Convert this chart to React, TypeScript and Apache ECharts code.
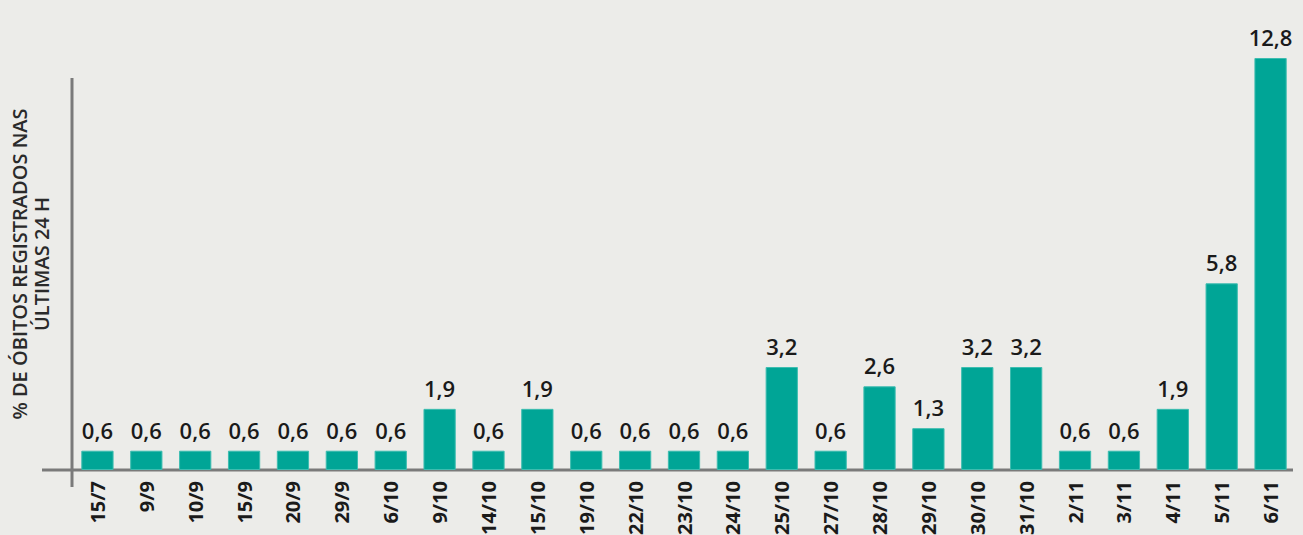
import React, { useEffect, useRef } from "react";
import * as echarts from "echarts";

const categories = ["15/7","9/9","10/9","15/9","20/9","29/9","6/10","9/10","14/10","15/10","19/10","22/10","23/10","24/10","25/10","27/10","28/10","29/10","30/10","31/10","2/11","3/11","4/11","5/11","6/11"];
const values = [0.6,0.6,0.6,0.6,0.6,0.6,0.6,1.9,0.6,1.9,0.6,0.6,0.6,0.6,3.2,0.6,2.6,1.3,3.2,3.2,0.6,0.6,1.9,5.8,12.8];
const yTitle = "% DE ÓBITOS REGISTRADOS NAS\nÚLTIMAS 24 H";

export default function App() {
  const ref = useRef<HTMLDivElement>(null);
  useEffect(() => {
    const chart = echarts.init(ref.current!, undefined, { renderer: "svg" });
    chart.setOption({
      animation: false,
      backgroundColor: "#ecece9",
      grid: { left: 73, right: 8, top: 58, bottom: 65, containLabel: false, outerBoundsMode: "none" },
      xAxis: {
        type: "category",
        data: categories,
        axisLine: { show: false },
        axisTick: { show: false },
        axisLabel: {
          rotate: 90,
          interval: 0,
          margin: 11,
          fontFamily: "Open Sans",
          fontWeight: "bold",
          fontSize: 20,
          color: "#1a1a1a",
        },
      },
      yAxis: {
        type: "value",
        min: 0,
        max: 12.8,
        axisLine: { show: false },
        axisTick: { show: false },
        axisLabel: { show: false },
        splitLine: { show: false },
        name: yTitle,
        nameLocation: "middle",
        nameRotate: 90,
        nameGap: 21,
        nameTextStyle: {
          fontFamily: "Open Sans",
          fontSize: 20,
          fontWeight: 600,
          color: "#2a2a2a",
          lineHeight: 22,
        },
      },
      series: [
        {
          type: "bar",
          data: values,
          barWidth: "66%",
          itemStyle: { color: "#00a596", borderColor: "#3dbdb0", borderWidth: 1 },
          label: {
            show: true,
            position: "top",
            distance: 10,
            fontFamily: "Open Sans",
            fontSize: 22,
            fontWeight: 600,
            color: "#1a1a1a",
            formatter: (p: any) => String(p.value).replace(".", ","),
          },
        },
      ],
      graphic: [
        { type: "line", shape: { x1: 42, y1: 470, x2: 1293, y2: 470 }, style: { stroke: "#7a7a7a", lineWidth: 3 } },
        { type: "line", shape: { x1: 72, y1: 78, x2: 72, y2: 487 }, style: { stroke: "#7a7a7a", lineWidth: 3 } },
      ],
    });
    return () => chart.dispose();
  }, []);
  return <div ref={ref} style={{ position: "fixed", left: 0, top: 0, width: 1303, height: 535 }} />;
}
